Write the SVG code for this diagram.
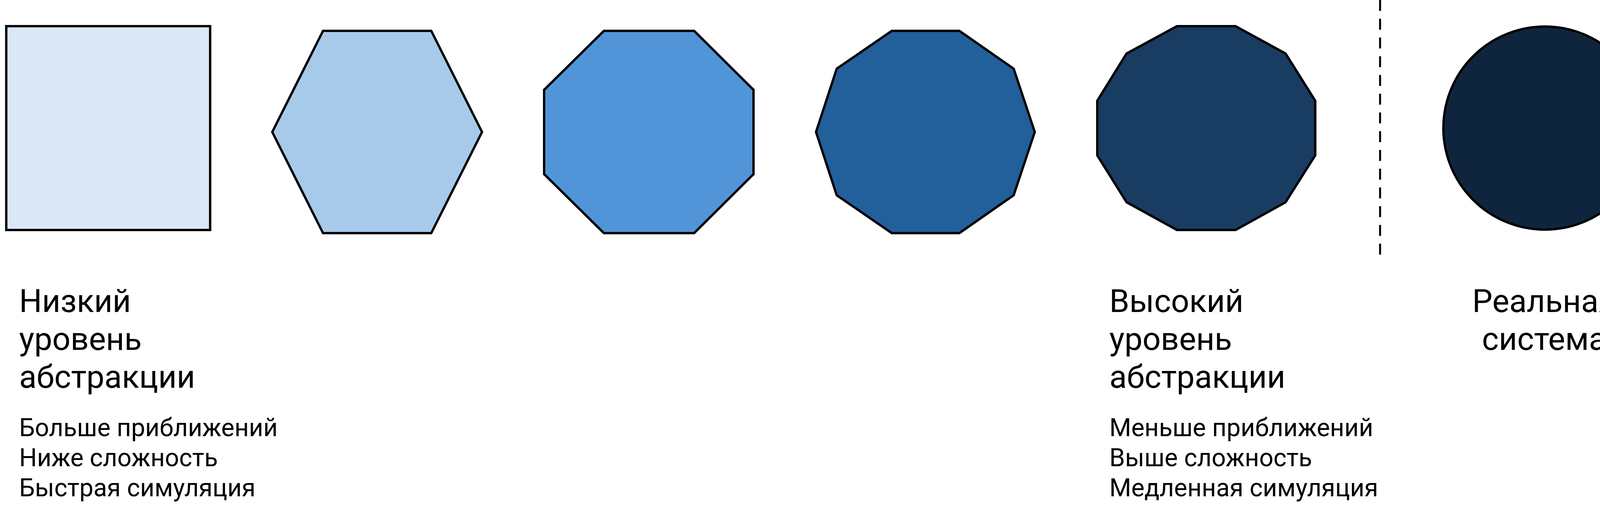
<svg xmlns="http://www.w3.org/2000/svg" width="4219" height="1324" viewBox="0 0 4219 1324">
  <style>
    .shape { stroke: #000000; stroke-width: 6; stroke-linejoin: miter; }
    .title { font-family: Roboto, "Liberation Sans", sans-serif; font-size: 82px; fill: #000000; }
    .sub { font-family: Roboto, "Liberation Sans", sans-serif; font-size: 64px; fill: #000000; }
    .divider { stroke: #000000; stroke-width: 5; stroke-dasharray: 28 20; fill: none; }
  </style>
  <rect width="4219" height="1324" fill="#ffffff"/>

  <g id="node-square">
    <rect class="shape" x="16" y="67" width="522" height="522" fill="#dbe8f5"/>
  </g>
  <g id="node-hexagon">
    <polygon class="shape" fill="#a7caeb" points="827,79 1104,79 1234,338 1104,597 827,597 697,338"/>
  </g>
  <g id="node-octagon">
    <polygon class="shape" fill="#5195d8" points="1546,79 1777,79 1929,230 1929,446 1777,597 1546,597 1393,446 1393,230"/>
  </g>
  <g id="node-decagon">
    <polygon class="shape" fill="#22609c" points="2283,79 2456,79 2595,176 2649,338 2595,500 2456,597 2283,597 2142,500 2089,338 2142,176"/>
  </g>
  <g id="node-dodecagon">
    <polygon class="shape" fill="#193c62" points="3013,67 3163,67 3291,137 3367,258 3367,398 3291,518 3163,589 3013,589 2884,518 2809,398 2809,258 2884,137"/>
  </g>
  <g id="node-circle">
    <circle class="shape" cx="3955" cy="328" r="260" fill="#0f253e"/>
  </g>

  <g id="connectors">
    <line class="divider" x1="3533" y1="0" x2="3533" y2="652"/>
  </g>

  <g id="label-low">
    <text class="title" x="49" y="799">Низкий</text>
    <text class="title" x="49" y="896">уровень</text>
    <text class="title" x="49" y="993">абстракции</text>
    <text class="sub" x="49" y="1117">Больше приближений</text>
    <text class="sub" x="49" y="1194">Ниже сложность</text>
    <text class="sub" x="49" y="1271">Быстрая симуляция</text>
  </g>
  <g id="label-high">
    <text class="title" x="2840" y="799">Высокий</text>
    <text class="title" x="2840" y="896">уровень</text>
    <text class="title" x="2840" y="993">абстракции</text>
    <text class="sub" x="2840" y="1117">Меньше приближений</text>
    <text class="sub" x="2840" y="1194">Выше сложность</text>
    <text class="sub" x="2840" y="1271">Медленная симуляция</text>
  </g>
  <g id="label-real">
    <text class="title" x="3953" y="799" text-anchor="middle">Реальная</text>
    <text class="title" x="3953" y="896" text-anchor="middle">система</text>
  </g>
</svg>
